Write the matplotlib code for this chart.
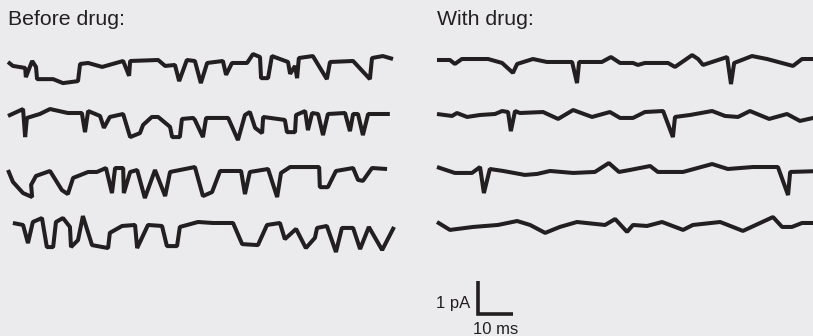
# Import libraries
import numpy as np
import matplotlib
matplotlib.use("Agg")
import matplotlib.pyplot as plt

# Trace vertices: time (ms) from trace start, current (pA) from baseline
before_t = [
	[0, 1.4, 4.9, 5.1, 6.9, 8.0, 8.3, 12.9, 15.7, 20.0, 20.6, 22.9, 26.9, 32.9, 34.6, 34.9,
	 42.9, 44.9, 47.7, 48.9, 51.1, 53.4, 55.1, 56.9, 61.4, 62.3, 64.0, 68.3, 70.0, 72.0, 72.3,
	 74.3, 75.4, 80.0, 80.6, 82.0, 82.6, 83.1, 87.1, 91.1, 92.0, 98.6, 103.4, 104.0, 107.1, 110.0],
	[0, 4.3, 4.9, 5.4, 9.1, 12.0, 17.1, 21.1, 22.0, 22.9, 26.3, 27.4, 29.1, 32.9, 34.9, 37.7,
	 38.6, 41.1, 42.9, 46.3, 46.9, 49.1, 49.7, 52.9, 53.4, 55.7, 56.6, 62.9, 65.7, 67.7, 69.1,
	 70.6, 72.6, 72.9, 79.1, 79.7, 82.0, 82.3, 84.9, 85.7, 86.9, 88.6, 90.0, 91.4, 96.3, 97.7,
	 98.6, 100.0, 101.4, 102.9, 109.1],
	[0, 1.4, 4.3, 6.9, 6.6, 8.0, 12.0, 15.4, 17.1, 18.6, 22.9, 25.4, 28.0, 29.7, 30.6, 32.9,
	 33.1, 34.9, 36.9, 39.1, 42.0, 44.9, 46.3, 53.4, 55.7, 58.3, 60.6, 66.6, 67.7, 69.1, 74.3,
	 76.9, 78.0, 80.6, 88.9, 89.1, 91.4, 93.7, 98.6, 100.0, 101.4, 104.0, 108.3],
	[1.4, 4.3, 5.7, 7.1, 9.7, 11.1, 12.9, 13.7, 15.7, 17.7, 18.0, 20.0, 21.4, 24.0, 28.6, 29.1,
	 32.6, 36.3, 36.9, 40.0, 44.0, 45.4, 48.3, 49.1, 54.3, 58.6, 64.3, 66.9, 71.4, 74.0, 77.7,
	 79.1, 82.3, 85.1, 87.7, 88.3, 91.1, 93.7, 95.4, 98.6, 100.6, 103.1, 106.9, 110.3],
]
before_i = [
	[-0.06, -0.18, -0.24, -0.52, -0.03, -0.21, -0.58, -0.58, -0.70, -0.64, -0.12, -0.09, -0.21,
	 -0.03, -0.48, -0.03, 0.00, -0.18, -0.15, -0.64, 0.00, -0.03, -0.70, -0.09, -0.03, -0.45,
	 -0.09, -0.09, 0.18, 0.09, -0.55, -0.55, 0.12, -0.06, -0.42, -0.18, -0.55, 0.06, 0.12,
	 -0.58, -0.06, -0.03, -0.58, 0.06, 0.12, 0.03],
	[-0.09, 0.12, -0.73, -0.15, -0.03, 0.12, 0.00, 0.00, -0.58, 0.06, -0.09, -0.45, -0.12,
	 -0.03, -0.73, -0.61, -0.36, -0.12, -0.12, -0.42, -0.73, -0.73, -0.18, -0.15, -0.21,
	 -0.73, -0.15, -0.15, -0.82, -0.06, 0.03, -0.45, -0.61, -0.12, -0.21, -0.58, -0.58,
	 -0.06, 0.06, -0.52, 0.00, -0.03, -0.67, -0.03, 0.00, -0.55, -0.03, -0.03, -0.67,
	 -0.03, -0.03],
	[0.00, -0.36, -0.70, -0.82, -0.45, -0.18, -0.03, -0.61, -0.73, -0.24, -0.06, -0.06, 0.06,
	 -0.70, 0.06, 0.06, -0.70, -0.06, 0.00, -0.85, 0.00, -0.79, -0.06, 0.09, -0.79, -0.67,
	 -0.03, -0.03, -0.73, -0.06, 0.03, -0.82, -0.09, 0.09, 0.09, -0.52, -0.52, -0.03, 0.06,
	 -0.30, -0.33, 0.06, 0.03],
	[-0.03, -0.09, -0.64, 0.00, 0.12, -0.76, -0.76, 0.00, 0.12, -0.15, -0.76, -0.55, 0.18,
	 -0.70, -0.79, -0.33, -0.12, -0.09, -0.79, -0.09, -0.12, -0.73, -0.73, -0.15, 0.00,
	 -0.03, -0.03, -0.67, -0.70, -0.09, -0.03, -0.52, -0.21, -0.79, -0.48, -0.18, -0.12,
	 -0.91, -0.18, -0.18, -0.82, -0.15, -0.85, -0.15],
]

drug_t = [
	[0, 3.7, 5.1, 7.1, 14.6, 18.6, 21.7, 22.9, 27.4, 31.4, 38.6, 40.0, 40.6, 47.1, 49.7, 52.3,
	 56.0, 57.4, 59.4, 66.0, 68.0, 72.9, 74.6, 76.0, 82.9, 84.0, 84.9, 90.0, 94.3, 101.7,
	 104.3, 110.0],
	[0, 4.3, 5.7, 8.6, 12.3, 16.6, 18.6, 20.3, 21.1, 22.3, 23.7, 30.3, 34.6, 38.9, 44.3, 49.4,
	 52.3, 56.0, 59.4, 64.6, 67.4, 68.0, 72.3, 78.6, 82.3, 86.0, 89.4, 94.9, 100.0, 103.7, 110.0],
	[0, 5.1, 10.0, 12.3, 13.4, 15.1, 18.9, 25.1, 28.6, 32.3, 38.9, 45.1, 49.1, 52.0, 55.1, 60.9,
	 63.1, 70.3, 78.6, 83.1, 90.3, 97.4, 100.3, 100.9, 110.0],
	[0, 3.7, 10.3, 17.4, 22.9, 26.6, 30.9, 35.1, 40.0, 48.0, 50.9, 54.3, 56.0, 60.0, 64.3, 70.3,
	 73.1, 80.9, 87.4, 96.0, 98.6, 101.4, 104.3, 110.0],
]
drug_i = [
	[0.00, 0.00, -0.12, 0.03, 0.03, -0.09, -0.39, -0.12, 0.03, -0.06, -0.06, -0.70, -0.06,
	 -0.06, 0.09, -0.09, -0.09, -0.15, -0.09, -0.09, -0.21, 0.15, 0.03, -0.15, 0.09, -0.73,
	 -0.09, 0.12, 0.03, -0.18, 0.03, 0.03],
	[-0.03, -0.09, 0.00, -0.12, -0.06, -0.03, 0.06, 0.03, -0.55, 0.06, 0.00, 0.03, -0.18, 0.09,
	 -0.12, 0.03, -0.15, -0.15, 0.03, 0.06, -0.73, -0.12, -0.06, 0.06, -0.09, -0.12, 0.06,
	 -0.18, -0.03, -0.24, -0.09],
	[0.03, -0.15, -0.15, 0.03, -0.76, -0.03, -0.09, -0.21, -0.18, -0.09, -0.15, -0.12, 0.15,
	 -0.12, -0.06, 0.06, -0.12, -0.12, 0.12, -0.03, 0.03, 0.03, -0.82, -0.12, -0.09],
	[0.00, -0.24, -0.15, -0.09, 0.03, -0.09, -0.33, -0.15, 0.00, -0.09, 0.09, -0.30, -0.09,
	 -0.12, 0.00, -0.24, -0.09, 0.00, -0.27, 0.15, -0.15, -0.15, -0.03, -0.03],
]

# Scale bar size
bar_ms = 10
bar_pa = 1

# Layout (pixels) and conversion to data units
W, H = 813, 336
px_ms = 3.5   # pixels per ms
px_pa = 33.0  # pixels per pA
col_x = [8, 437]
row_y = [[60, 113, 170, 222], [60, 113, 168, 222]]
ink = '#231f20'
bg = '#ebebed'

fig = plt.figure(figsize=(W/100, H/100), dpi=100, facecolor=bg)
ax = fig.add_axes([0, 0, 1, 1])
ax.set_facecolor(bg)
ax.set_xlim(0, W/px_ms)
ax.set_ylim(-H/px_pa, 0)
ax.axis('off')

# Draw traces
for c, (ts, cs) in enumerate([(before_t, before_i), (drug_t, drug_i)]):
	for r in range(4):
		x = np.array(ts[r]) + col_x[c]/px_ms
		y = np.array(cs[r]) - row_y[c][r]/px_pa
		ax.plot(x, y, color=ink, lw=2.9, solid_joinstyle='bevel', solid_capstyle='butt')

# Labels
font = ['Liberation Sans', 'DejaVu Sans']
ax.text(col_x[0]/px_ms, -25/px_pa, 'Before drug:', family=font, fontsize=15.3, color=ink, va='baseline')
ax.text(col_x[1]/px_ms, -25/px_pa, 'With drug:', family=font, fontsize=15.3, color=ink, va='baseline')

# Scale bar
x0, y0 = 478/px_ms, -314/px_pa
ax.plot([x0, x0, x0+bar_ms], [y0+bar_pa, y0, y0], color=ink, lw=2.6,
	solid_joinstyle='miter', solid_capstyle='butt')
ax.text(x0-8/px_ms, y0+6/px_pa, '%d pA' % bar_pa, family=font, fontsize=12, color=ink,
	ha='right', va='baseline')
ax.text(x0+bar_ms/2, -334/px_pa, '%d ms' % bar_ms, family=font, fontsize=12, color=ink,
	ha='center', va='baseline')

fig.savefig('out.png', dpi=100, facecolor=bg)
